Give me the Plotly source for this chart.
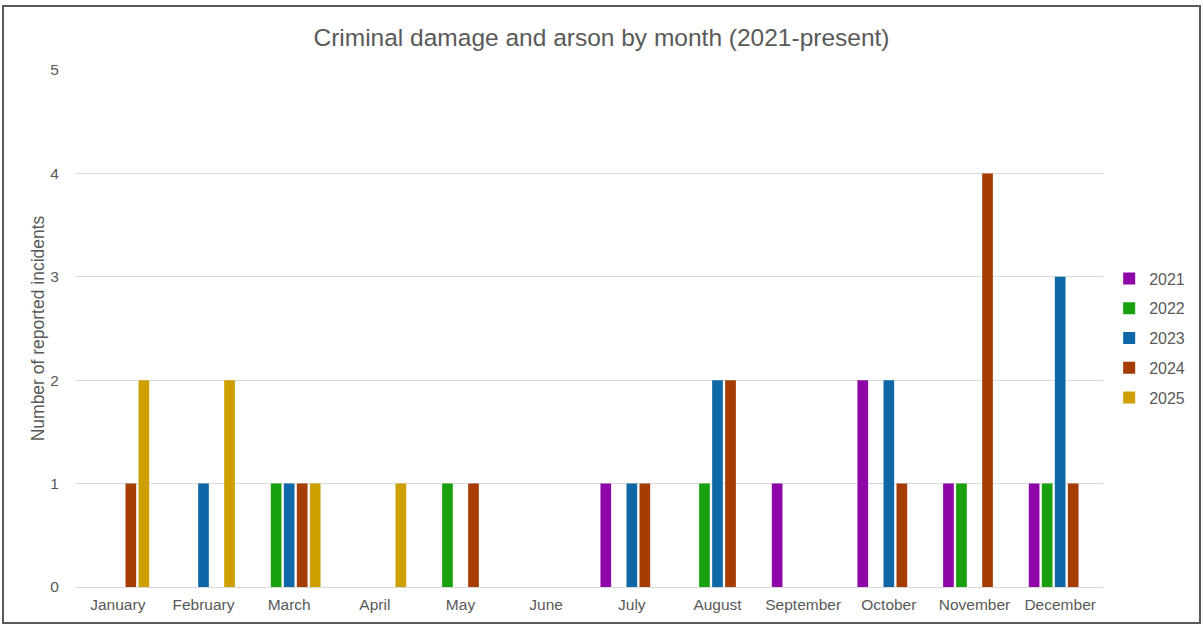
import plotly.graph_objects as go

months = ["January", "February", "March", "April", "May", "June", "July",
          "August", "September", "October", "November", "December"]
years = ["2021", "2022", "2023", "2024", "2025"]
v2021 = [None, None, None, None, None, None, 1, None, 1, 2, 1, 1]
v2022 = [None, None, 1, None, 1, None, None, 1, None, None, 1, 1]
v2023 = [None, 1, 1, None, None, None, 1, 2, None, 2, None, 3]
v2024 = [1, None, 1, None, 1, None, 1, 2, None, 1, 4, 1]
v2025 = [2, 2, 1, 1, None, None, None, None, None, None, None, None]
series = [v2021, v2022, v2023, v2024, v2025]
colors = ["#8E06A8", "#19A00E", "#0E67A6", "#A53C02", "#CE9F00"]
y_ticks = [0, 1, 2, 3, 4, 5]

fig = go.Figure()
for name, vals, col in zip(years, series, colors):
    fig.add_trace(go.Bar(x=months, y=vals, name=name, marker_color=col,
                         marker_line_width=0, legendgroup=name))

font_fam = "Liberation Sans, Arial, sans-serif"
fig.update_layout(
    width=1203, height=625,
    margin=dict(l=75, r=100, t=70, b=38, autoexpand=False),
    paper_bgcolor="white", plot_bgcolor="white",
    barmode="group", bargap=0.24, bargroupgap=0.18,
    title=dict(text="Criminal damage and arson by month (2021-present)",
               x=0.5, xanchor="center", y=0.94, yanchor="middle",
               font=dict(family=font_fam, size=24.5, color="#595959")),
    font=dict(family=font_fam, color="#595959"),
    xaxis=dict(tickfont=dict(size=15.5, color="#595959"), showgrid=False,
               showline=True, linecolor="#D9D9D9", ticks="outside", ticklen=3,
               tickcolor="rgba(0,0,0,0)"),
    yaxis=dict(range=[0, 5], tickvals=y_ticks, showgrid=True, gridcolor="#D9D9D9",
               gridwidth=1, zeroline=False, tickfont=dict(size=15.5, color="#595959"),
               ticks="outside", ticklen=12, tickcolor="rgba(0,0,0,0)",
               title=dict(text="Number of reported incidents",
                          font=dict(size=17.5, color="#595959"), standoff=1)),
    legend=dict(x=1.006, xanchor="left", y=0.4816, yanchor="middle",
                font=dict(size=16, color="#595959"), tracegroupgap=6,
                itemwidth=30, traceorder="grouped", bgcolor="rgba(0,0,0,0)"),
    shapes=[dict(type="rect", xref="paper", yref="paper",
                 x0=(3 - 75) / 1028, x1=(1200 - 75) / 1028,
                 y0=(587 - 623) / 517, y1=(587 - 6) / 517,
                 line=dict(color="#595959", width=2), layer="below")],
)

fig.write_html("out.html")
